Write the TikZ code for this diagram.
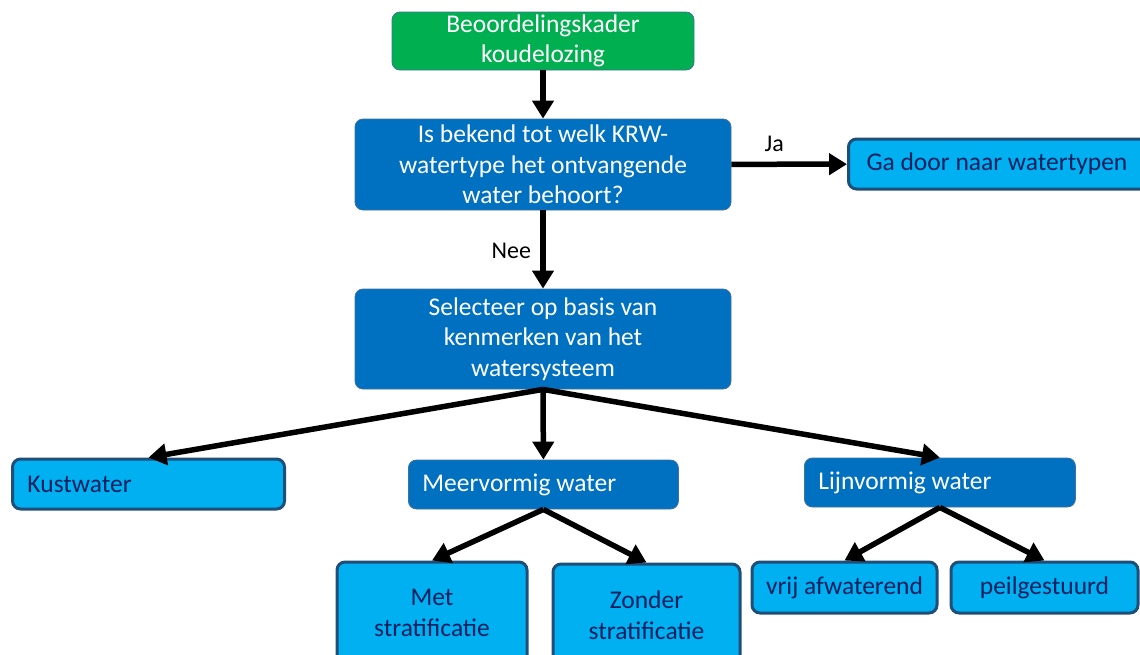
\documentclass[tikz,border=0pt]{standalone}
\usepackage{fontspec}
\setmainfont{Carlito}
\usetikzlibrary{arrows.meta,positioning}
\definecolor{groen}{HTML}{00B050}
\definecolor{donkerblauw}{HTML}{0070C0}
\definecolor{lichtblauw}{HTML}{00B0F0}
\definecolor{randblauw}{HTML}{1F4E79}
\definecolor{dunrand}{HTML}{41719C}
\definecolor{navy}{HTML}{002060}

\begin{document}
\begin{tikzpicture}[x=1pt,y=-1pt,
		tekst/.style={font=\fontsize{25.5}{30.5}\selectfont},
		vak/.style={tekst,rounded corners=8pt,draw=dunrand,line width=0.8pt,fill=donkerblauw,text=white,align=center,inner sep=0pt},
		vraag/.style={vak,minimum width=376pt},
		keuze/.style={tekst,rounded corners=8pt,draw=randblauw,line width=3pt,fill=lichtblauw,text=navy,align=center,inner sep=0pt},
		links/.style={anchor=west,align=flush left},
		pijl/.style={line width=5.5pt,-{Triangle[length=18pt,width=21pt]}},
		label/.style={font=\fontsize{24}{26}\selectfont,text=black}]
		\useasboundingbox (0,0) rectangle (1140,654);
		\clip (0,0) rectangle (1140,654);
		%
		\node[vak,fill=groen,minimum width=302pt,minimum height=58pt] (kader) at (543,41) {Beoordelingskader\\koudelozing};
		\node[vraag,minimum height=91pt] (krw) at (543,164.5) {Is bekend tot welk KRW-\\watertype het ontvangende\\water behoort?};
		\node[keuze,links,minimum width=303pt,minimum height=50pt,text width=303pt] (door) at (847,164) {\hspace*{18pt}Ga door naar watertypen};
		\node[vraag,minimum height=100pt] (sel) at (543,339) {Selecteer op basis van\\kenmerken van het\\watersysteem};
		%
		\node[keuze,links,minimum width=272pt,minimum height=50pt,text width=272pt] (kust) at (11,484) {\hspace*{15pt}Kustwater};
		\node[vak,links,minimum width=270pt,minimum height=49pt,text width=270pt] (meer) at (408,484.5) {\hspace*{14pt}Meervormig water};
		\node[vak,links,minimum width=271pt,minimum height=49pt,text width=271pt] (lijn) at (804,482.5) {\hspace*{14pt}Lijnvormig water};
		%
		\node[keuze,minimum width=190pt,minimum height=102pt] (met) at (432,613) {Met\\stratificatie};
		\node[keuze,minimum width=187pt,minimum height=102pt] (zonder) at (646.5,615) {Zonder\\stratificatie};
		\node[keuze,minimum width=185pt,minimum height=51pt] (vrij) at (844.5,587.5) {vrij afwaterend};
		\node[keuze,minimum width=187pt,minimum height=51pt] (peil) at (1044.5,587.5) {peilgestuurd};
		%
		\draw[pijl] (kader) -- (krw);
		\draw[pijl] (krw) -- node[label,above,pos=0.37,yshift=6pt] {Ja} (door);
		\draw[pijl] (krw) -- node[label,left,xshift=-6pt,yshift=-1pt] {Nee} (sel);
		\draw[pijl] (sel.south) -- (kust.north);
		\draw[pijl] (sel.south) -- (meer.north);
		\draw[pijl] (sel.south) -- (lijn.north);
		\draw[pijl] (meer.south) -- (met.north);
		\draw[pijl] (meer.south) -- (zonder.north);
		\draw[pijl] (lijn.south) -- (vrij.north);
		\draw[pijl] (lijn.south) -- (peil.north);
	\end{tikzpicture}
\end{document}
